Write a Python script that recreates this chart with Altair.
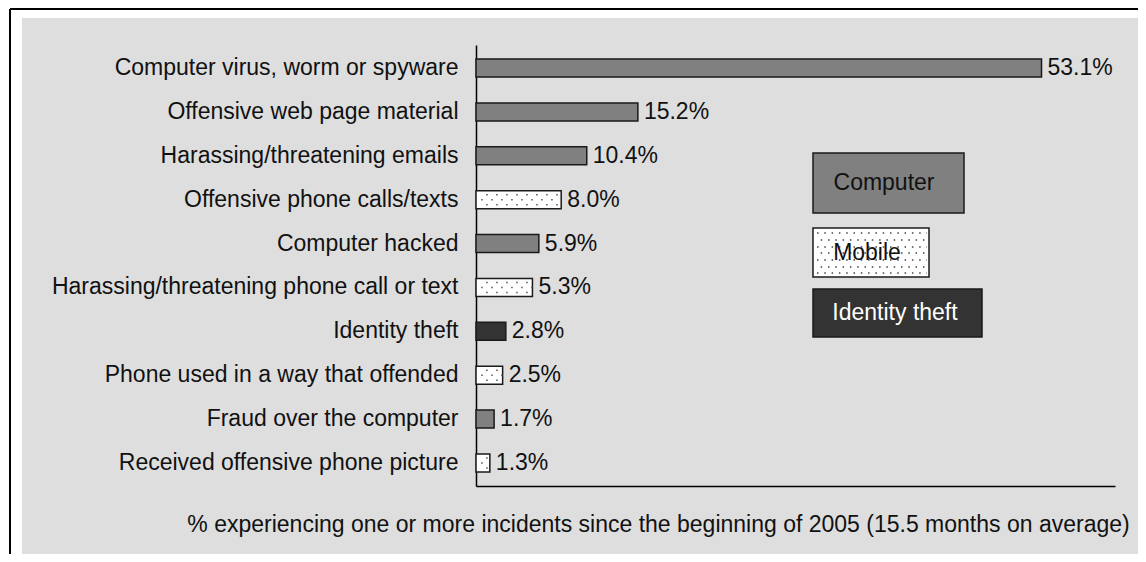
import altair as alt
import pandas as pd

categories = [
    "Computer virus, worm or spyware",
    "Offensive web page material",
    "Harassing/threatening emails",
    "Offensive phone calls/texts",
    "Computer hacked",
    "Harassing/threatening phone call or text",
    "Identity theft",
    "Phone used in a way that offended",
    "Fraud over the computer",
    "Received offensive phone picture",
]
values = [53.1, 15.2, 10.4, 8.0, 5.9, 5.3, 2.8, 2.5, 1.7, 1.3]
types = ["Computer", "Computer", "Computer", "Mobile", "Computer",
         "Mobile", "Identity theft", "Mobile", "Computer", "Mobile"]
type_names = ["Computer", "Mobile", "Identity theft"]
type_colors = ["#808080", "#ffffff", "#333333"]
x_title = "% experiencing one or more incidents since the beginning of 2005 (15.5 months on average)"

FONT = "Liberation Sans"
FS = 23
PANEL = "#dedede"

df = pd.DataFrame({"cat": categories, "value": values, "type": types})
one = pd.DataFrame({"k": [0]})

xscale = alt.Scale(domain=[0, 60], nice=False)
yscale = alt.Scale(paddingInner=0.59, paddingOuter=0.32)


def yenc(**kw):
    return alt.Y("cat:N", sort=categories, scale=yscale, title=None, **kw)


def xenc(field):
    return alt.X(field, scale=xscale, title=x_title)


# white margin strips + frame (background of the svg is the gray panel)
strip_left = alt.Chart(one).mark_rect(color="#ffffff").encode(
    x=alt.value(-468), x2=alt.value(-454), y=alt.value(-37), y2=alt.value(509))
strip_top = alt.Chart(one).mark_rect(color="#ffffff").encode(
    x=alt.value(-468), x2=alt.value(662), y=alt.value(-37), y2=alt.value(-27))
frame_left = alt.Chart(one).mark_rule(color="#000000", strokeWidth=2).encode(
    x=alt.value(-466), y=alt.value(-36), y2=alt.value(509))
frame_top = alt.Chart(one).mark_rule(color="#000000", strokeWidth=2).encode(
    x=alt.value(-466), x2=alt.value(662), y=alt.value(-36))

bars = alt.Chart(df).mark_bar(stroke="#1a1a1a", strokeWidth=1.5).encode(
    x=xenc("value:Q"),
    y=yenc(),
    color=alt.Color("type:N", scale=alt.Scale(domain=type_names, range=type_colors), legend=None),
)

dot_layers = []
for off, dash_off in [(-5, 3), (0, 8), (5, 3)]:
    dot_layers.append(
        alt.Chart(df).transform_filter(alt.datum.type == "Mobile")
        .transform_calculate(start="0.3")
        .mark_rule(color="#555555", strokeWidth=1.5, strokeDash=[1.5, 8.5],
                   strokeDashOffset=dash_off, yOffset=off)
        .encode(x=xenc("start:Q"), x2="value:Q", y=yenc(bandPosition=0.5))
    )

labels = alt.Chart(df).transform_calculate(
    label="format(datum.value, '.1f') + '%'"
).mark_text(align="left", baseline="middle", dx=6, font=FONT, fontSize=FS, color="#111111").encode(
    x=xenc("value:Q"), y=yenc(bandPosition=0.5), text="label:N")

# legend boxes
leg = []
leg.append(alt.Chart(one).mark_rect(fill=type_colors[0], stroke="#1a1a1a", strokeWidth=1.5).encode(
    x=alt.value(337), x2=alt.value(488), y=alt.value(108), y2=alt.value(168)))
leg.append(alt.Chart(one).mark_rect(fill=type_colors[1], stroke="#1a1a1a", strokeWidth=1.5).encode(
    x=alt.value(337), x2=alt.value(453), y=alt.value(183), y2=alt.value(232)))
for i, yy in enumerate([188, 195, 202, 208, 215, 222, 228]):
    leg.append(alt.Chart(one).mark_rule(color="#444444", strokeWidth=1.5, strokeDash=[1.5, 5.8],
                                        strokeDashOffset=(0 if i % 2 == 0 else 3.6)).encode(
        x=alt.value(341), x2=alt.value(451), y=alt.value(yy)))
leg.append(alt.Chart(one).mark_rect(fill=type_colors[2], stroke="#1a1a1a", strokeWidth=1.5).encode(
    x=alt.value(337), x2=alt.value(506), y=alt.value(244), y2=alt.value(292)))
for name, tx, ty, col in [(type_names[0], 408, 138, "#111111"),
                          (type_names[1], 391, 208, "#111111"),
                          (type_names[2], 419, 268, "#ffffff")]:
    leg.append(alt.Chart(one).mark_text(align="center", baseline="middle", font=FONT,
                                        fontSize=FS, color=col, text=name).encode(
        x=alt.value(tx), y=alt.value(ty)))

chart = alt.layer(strip_left, strip_top, frame_left, frame_top, bars, *dot_layers, labels, *leg).properties(
    width=639, height=441,
    autosize=alt.AutoSizeParams(type="none"),
    padding={"left": 468, "top": 37, "right": 23, "bottom": 68},
    background=PANEL,
).configure_view(stroke=None).configure_axisX(
    labels=False, ticks=False, grid=False, domainColor="#000000", domainWidth=1.5,
    titleFont=FONT, titleFontSize=FS, titleFontWeight="normal", titleColor="#111111",
    titleX=182, titleY=38, titleAlign="center", titleBaseline="middle", zindex=1,
).configure_axisY(
    ticks=False, grid=False, labelFontSize=FS, labelFont=FONT, labelColor="#111111",
    labelPadding=18, labelLimit=600, domainColor="#000000", domainWidth=1.5, zindex=1,
)

chart.save("out.html", embed_options={"renderer": "svg", "actions": False})
